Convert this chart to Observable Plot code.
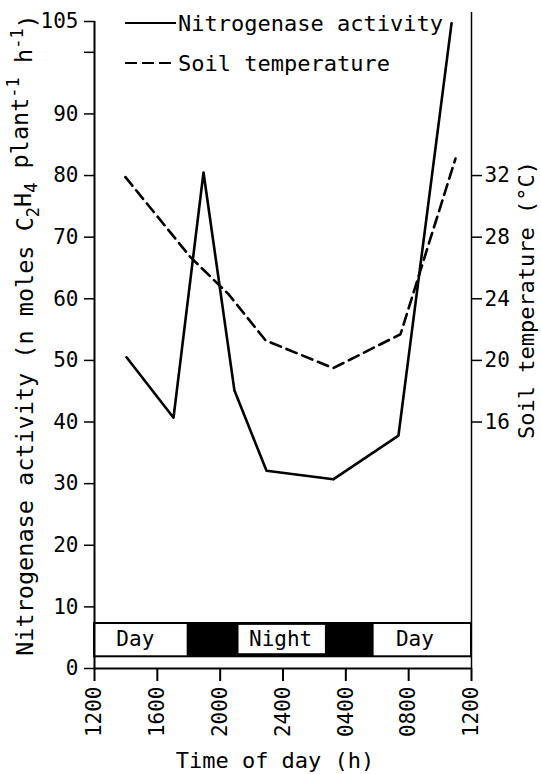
<!DOCTYPE html>
<html>
<head>
<meta charset="utf-8">
<script src="https://cdn.jsdelivr.net/npm/d3@7"></script>
<script src="https://cdn.jsdelivr.net/npm/@observablehq/plot@0.6"></script>
<style>
  html, body { margin: 0; padding: 0; background: #fff; }
  #chart svg { display: block; background: #fff; }
</style>
</head>
<body>
<div id="chart"></div>
<script>
// ---- data (hours after 12:00) ----
const timeTicks = [0, 4, 8, 12, 16, 20, 24];
const timeLabels = ["1200", "1600", "2000", "2400", "0400", "0800", "1200"];

const nitroTime  = [2.04, 5.03, 6.94, 8.91, 10.95, 15.2, 19.35, 22.73];
const nitroValue = [50.5, 40.7, 80.5, 45.1, 32.1, 30.7, 37.8, 104.7];

const tempTime  = [1.97, 6.11, 8.53, 10.89, 15.2, 19.48, 22.98];
const tempValue = [31.9, 26.7, 24.3, 21.3, 19.5, 21.7, 33.1];

const leftTicks = [0, 10, 20, 30, 40, 50, 60, 70, 80, 90, 100, 105];
const leftLabels = ["0", "10", "20", "30", "40", "50", "60", "70", "80", "90", "", "105"];
const tempTicks = [16, 20, 24, 28, 32];
const tempToLeft = 2.5; // 1 °C = 2.5 units of the left axis

// day / night band (axis units)
const bandTop = 7.3, bandBottom = 1.9;
const nightStart = 5.9, nightEnd = 17.8;
const nightBoxStart = 9.2, nightBoxEnd = 14.7, nightBoxTop = 7.0, nightBoxBottom = 2.4;
const bandLabels = ["Day", "Night", "Day"];
const bandLabelX = [2.6, 11.85, 20.4];
const bandLabelY = 4.7;

const nitro = nitroTime.map((t, i) => ({t, v: nitroValue[i]}));
const temp = tempTime.map((t, i) => ({t, v: tempValue[i] * tempToLeft}));
const labels = bandLabels.map((s, i) => ({s, x: bandLabelX[i], y: bandLabelY}));

const FONT = "DejaVu Sans Mono";

const plot = Plot.plot({
  width: 541,
  height: 774,
  marginLeft: 94,
  marginRight: 70,
  marginTop: 21,
  marginBottom: 106,
  style: {fontFamily: FONT, fontSize: "21px", color: "black", background: "white"},
  x: {domain: [0, 24]},
  y: {domain: [0, 105]},
  marks: [
    // day/night band
    Plot.rect([{x1: 0, x2: 24, y1: bandBottom, y2: bandTop}], {x1: "x1", x2: "x2", y1: "y1", y2: "y2", fill: "white", stroke: "black", strokeWidth: 2}),
    Plot.rect([{x1: nightStart, x2: nightEnd, y1: bandBottom, y2: bandTop}], {x1: "x1", x2: "x2", y1: "y1", y2: "y2", fill: "black"}),
    Plot.rect([{x1: nightBoxStart, x2: nightBoxEnd, y1: nightBoxBottom, y2: nightBoxTop}], {x1: "x1", x2: "x2", y1: "y1", y2: "y2", fill: "white"}),
    Plot.text(labels, {x: "x", y: "y", text: "s", fontSize: 21, fontFamily: FONT, fill: "black"}),
    // axes lines
    Plot.ruleX([0], {stroke: "black", strokeWidth: 2}),
    Plot.ruleX([24], {stroke: "black", strokeWidth: 1.5, insetTop: -9}),
    Plot.ruleY([0], {stroke: "black", strokeWidth: 2}),
    // axes
    Plot.axisY({ticks: leftTicks, tickFormat: d => leftLabels[leftTicks.indexOf(d)], anchor: "left", tickSize: 10, tickPadding: 6, label: null, fontSize: 21, strokeWidth: 1.5}),
    Plot.axisY({ticks: tempTicks.map(t => t * tempToLeft), tickFormat: d => String(Math.round(d / tempToLeft)), anchor: "right", tickSize: 10, tickPadding: 3, label: null, fontSize: 21, strokeWidth: 1.5}),
    Plot.axisX({ticks: timeTicks, tickFormat: d => timeLabels[timeTicks.indexOf(d)], anchor: "bottom", tickRotate: -90, tickSize: 13, tickPadding: 5, label: null, fontSize: 21, strokeWidth: 2}),
    // data lines
    Plot.line(nitro, {x: "t", y: "v", stroke: "black", strokeWidth: 2.6}),
    Plot.line(temp, {x: "t", y: "v", stroke: "black", strokeWidth: 2.6, strokeDasharray: "11,6"})
  ]
});

document.getElementById("chart").appendChild(plot);

// ---- axis titles & legend ----
const svg = d3.select(plot);

// left title
const lt = svg.append("text")
  .attr("transform", "translate(33,335) rotate(-90)")
  .attr("text-anchor", "middle")
  .attr("font-family", FONT)
  .attr("font-size", 23.5)
  .attr("fill", "black");
lt.append("tspan").text("Nitrogenase activity (n moles C");
lt.append("tspan").attr("font-size", 17).attr("dy", "0.35em").text("2");
lt.append("tspan").attr("dy", "-0.35em").text("H");
lt.append("tspan").attr("font-size", 17).attr("dy", "0.35em").text("4");
lt.append("tspan").attr("dy", "-0.35em").text(" plant");
lt.append("tspan").attr("font-size", 17).attr("dy", "-0.55em").text("-1");
lt.append("tspan").attr("dy", "0.55em").text(" h");
lt.append("tspan").attr("font-size", 17).attr("dy", "-0.55em").text("-1");
lt.append("tspan").attr("dy", "0.55em").text(")");

// right title
svg.append("text")
  .attr("transform", "translate(534,300) rotate(-90)")
  .attr("text-anchor", "middle")
  .attr("font-family", FONT)
  .attr("font-size", 22)
  .attr("fill", "black")
  .text("Soil temperature (°C)");

// bottom title
svg.append("text")
  .attr("x", 275).attr("y", 768)
  .attr("text-anchor", "middle")
  .attr("font-family", FONT)
  .attr("font-size", 22)
  .attr("fill", "black")
  .text("Time of day (h)");

// legend
const legend = [
  {name: "Nitrogenase activity", dash: null, y: 23},
  {name: "Soil temperature", dash: "12,5", y: 63}
];
legend.forEach(d => {
  svg.append("line")
    .attr("x1", 125).attr("x2", 176).attr("y1", d.y).attr("y2", d.y)
    .attr("stroke", "black").attr("stroke-width", 2)
    .attr("stroke-dasharray", d.dash);
  svg.append("text")
    .attr("x", 178).attr("y", d.y)
    .attr("dy", "0.35em")
    .attr("text-anchor", "start")
    .attr("font-family", FONT)
    .attr("font-size", 22)
    .attr("fill", "black")
    .text(d.name);
});
</script>
</body>
</html>
